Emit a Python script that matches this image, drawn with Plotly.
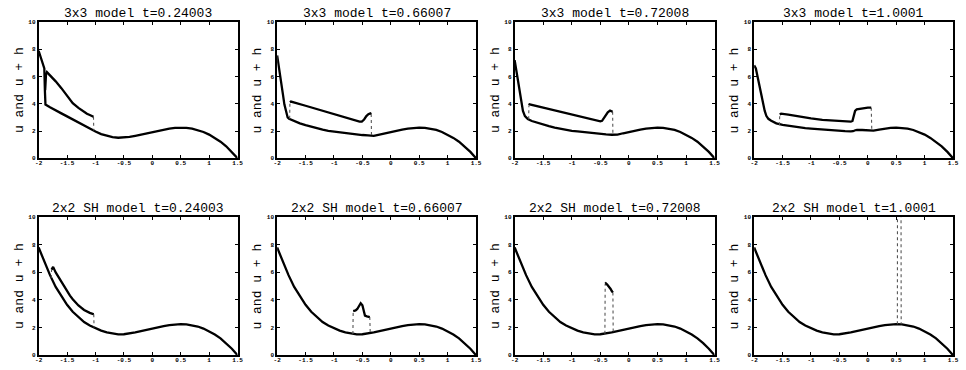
import plotly.graph_objects as go

# ---------------- data ----------------
X_TICKS = [-2, -1.5, -1, -0.5, 0, 0.5, 1, 1.5]
X_TICK_TEXT = ["-2", "-1.5", "-1", "-0.5", "0", "0.5", "1", "1.5"]
Y_TICKS = [0, 2, 4, 6, 8, 10]
Y_TICK_TEXT = ["0", "2", "4", "6", "8", "10"]

# common bottom curve (u in the SH panels, right part of u in the 3x3 panels)
BASE_X = [-2.0, -1.9, -1.8, -1.7, -1.6, -1.5, -1.4, -1.3, -1.2, -1.1, -1.0,
          -0.9, -0.8, -0.7, -0.6, -0.5, -0.4, -0.3, -0.2, -0.1, 0.0,
          0.1, 0.2, 0.3, 0.4, 0.5, 0.6, 0.7, 0.8, 0.9, 1.0,
          1.1, 1.2, 1.3, 1.4, 1.5]
BASE_Y = [7.8, 6.75, 5.8, 4.95, 4.25, 3.65, 3.15, 2.75, 2.4, 2.15, 1.95,
          1.78, 1.65, 1.56, 1.51, 1.52, 1.57, 1.65, 1.74, 1.84, 1.94,
          2.03, 2.11, 2.18, 2.23, 2.25, 2.24, 2.18, 2.08, 1.93, 1.74,
          1.5, 1.22, 0.88, 0.47, 0.0]

TITLES = ["3x3 model t=0.24003", "3x3 model t=0.66007", "3x3 model t=0.72008", "3x3 model t=1.0001",
          "2x2 SH model t=0.24003", "2x2 SH model t=0.66007", "2x2 SH model t=0.72008", "2x2 SH model t=1.0001"]

# 3x3 model: left part of u (joins the base curve afterwards)
U1_X = [-2.0, -1.96, -1.925, -1.9, -1.89, -1.88, -1.8, -1.7, -1.6, -1.5, -1.4, -1.3, -1.2, -1.1, -1.0]
U1_Y = [7.9, 7.3, 6.95, 6.6, 5.0, 3.95, 3.75, 3.5, 3.3, 3.08, 2.85, 2.62, 2.4, 2.18, 1.97]
U2_X = [-2.0, -1.95, -1.93, -1.9, -1.873, -1.845, -1.815, -1.79, -1.7, -1.6, -1.5, -1.4, -1.3,
        -1.2, -1.1, -1.0, -0.9, -0.8, -0.7, -0.6, -0.5, -0.4, -0.34]
U2_Y = [7.55, 6.3, 5.6, 4.75, 3.96, 3.4, 3.0, 2.9, 2.72, 2.57, 2.44, 2.32, 2.2,
        2.1, 2.02, 1.96, 1.9, 1.84, 1.79, 1.75, 1.71, 1.68, 1.66]
U3_X = [-2.0, -1.95, -1.913, -1.88, -1.855, -1.82, -1.798, -1.77, -1.7, -1.6, -1.5, -1.4, -1.3,
        -1.2, -1.1, -1.0, -0.9, -0.8, -0.7, -0.6, -0.5, -0.4, -0.3, -0.27]
U3_Y = [7.2, 5.95, 4.9, 4.0, 3.48, 3.1, 2.98, 2.88, 2.74, 2.6, 2.48, 2.37, 2.26,
        2.17, 2.09, 2.02, 1.97, 1.92, 1.87, 1.83, 1.79, 1.76, 1.73, 1.72]
U4_X = [-2.0, -1.97, -1.935, -1.9, -1.87, -1.844, -1.815, -1.786, -1.75, -1.7, -1.61, -1.5, -1.4,
        -1.3, -1.2, -1.1, -1.0, -0.9, -0.8, -0.7, -0.6, -0.5, -0.4, -0.3, -0.26, -0.22, -0.19,
        -0.1, 0.0, 0.07]
U4_Y = [6.83, 6.6, 5.9, 5.16, 4.5, 3.96, 3.5, 3.12, 2.9, 2.76, 2.57, 2.45, 2.38,
        2.32, 2.27, 2.22, 2.18, 2.14, 2.1, 2.06, 2.03, 2.01, 1.99, 1.98, 1.99, 2.06, 2.09,
        2.08, 2.04, 2.02]

# u + h where it differs from u
H1_X = [-1.885, -1.87, -1.855, -1.8, -1.7, -1.6, -1.5, -1.45, -1.4, -1.3, -1.2, -1.15, -1.1, -1.05, -1.035, -1.03]
H1_Y = [5.0, 6.2, 6.33, 6.1, 5.65, 5.15, 4.6, 4.3, 4.05, 3.7, 3.4, 3.27, 3.18, 3.08, 3.05, 2.05]
H2_X = [-1.78, -1.775, -1.757, -1.5, -1.25, -1.0, -0.75, -0.6, -0.55, -0.51, -0.47, -0.43, -0.395, -0.36, -0.345, -0.34]
H2_Y = [2.9, 4.12, 4.17, 3.86, 3.55, 3.25, 2.94, 2.76, 2.7, 2.7, 2.85, 3.1, 3.24, 3.3, 3.25, 1.66]
H3_X = [-1.755, -1.75, -1.74, -1.5, -1.25, -1.0, -0.75, -0.6, -0.55, -0.5, -0.47, -0.44, -0.41, -0.37, -0.33, -0.3, -0.285, -0.28]
H3_Y = [2.86, 3.9, 3.96, 3.72, 3.47, 3.22, 2.97, 2.8, 2.74, 2.71, 2.75, 2.95, 3.15, 3.38, 3.5, 3.48, 3.42, 1.72]
H4_X = [-1.555, -1.55, -1.526, -1.4, -1.2, -1.0, -0.8, -0.6, -0.4, -0.3, -0.27, -0.25, -0.224, -0.195, -0.1, 0.0, 0.06, 0.07]
H4_Y = [2.43, 3.22, 3.28, 3.2, 3.05, 2.93, 2.82, 2.75, 2.7, 2.69, 2.75, 3.1, 3.48, 3.6, 3.67, 3.72, 3.72, 2.02]
H5_X = [-1.78, -1.772, -1.745, -1.7, -1.6, -1.5, -1.449, -1.4, -1.3, -1.2, -1.15, -1.1, -1.05, -1.03, -1.025]
H5_Y = [5.6, 6.2, 6.4, 6.0, 5.3, 4.6, 4.31, 4.05, 3.6, 3.28, 3.16, 3.07, 3.0, 2.97, 2.0]
H6_X = [-0.667, -0.662, -0.62, -0.59, -0.555, -0.53, -0.5, -0.475, -0.455, -0.42, -0.37, -0.362]
H6_Y = [1.54, 3.2, 3.25, 3.35, 3.6, 3.77, 3.62, 3.2, 2.87, 2.82, 2.76, 1.6]
H7_X = [-0.42, -0.415, -0.405, -0.38, -0.35, -0.32, -0.3, -0.28, -0.275]
H7_Y = [1.56, 5.18, 5.21, 5.12, 4.98, 4.8, 4.65, 4.55, 1.68]
H8_X = [0.52, 0.523, 0.583, 0.587]
H8_Y = [2.25, 15.0, 15.0, 2.25]

U_LEFT = [(U1_X, U1_Y), (U2_X, U2_Y), (U3_X, U3_Y), (U4_X, U4_Y), None, None, None, None]
UPPER = [(H1_X, H1_Y), (H2_X, H2_Y), (H3_X, H3_Y), (H4_X, H4_Y),
         (H5_X, H5_Y), (H6_X, H6_Y), (H7_X, H7_Y), (H8_X, H8_Y)]

# ---------------- layout geometry ----------------
W, H = 966, 370
COLS = [(35, 236), (276, 477), (516, 718), (758, 959)]
ROWS = [(19.5, 158.3), (218.3, 359.0)]
FONT = "Liberation Mono"


def lower_curve(left):
    if left is None:
        return BASE_X, BASE_Y
    lx, ly = left
    xs = list(lx) + [x for x in BASE_X if x > lx[-1] + 0.02]
    ys = list(ly) + [y for x, y in zip(BASE_X, BASE_Y) if x > lx[-1] + 0.02]
    return xs, ys


def split_steep(xs, ys):
    sx, sy, dx_, dy_ = [], [], [], []
    for i in range(len(xs) - 1):
        x0, y0, x1, y1 = xs[i], ys[i], xs[i + 1], ys[i + 1]
        if abs(x1 - x0) < 0.012 and abs(y1 - y0) > 0.3:
            dx_ += [x0, x1, None]
            dy_ += [y0, y1, None]
            sx.append(None)
            sy.append(None)
        else:
            if not sx or sx[-1] is None:
                sx.append(x0)
                sy.append(y0)
            sx.append(x1)
            sy.append(y1)
    return sx, sy, dx_, dy_


fig = go.Figure()
annotations = []
layout_axes = {}
for i in range(8):
    r, c = divmod(i, 4)
    n = i + 1
    xa = "x" if n == 1 else f"x{n}"
    ya = "y" if n == 1 else f"y{n}"
    lx, ly = lower_curve(U_LEFT[i])
    fig.add_trace(go.Scatter(x=lx, y=ly, mode="lines", xaxis=xa, yaxis=ya,
                             line=dict(color="black", width=2.3)))
    ux, uy = UPPER[i]
    sx, sy, dx_, dy_ = split_steep(ux, uy)
    fig.add_trace(go.Scatter(x=dx_, y=dy_, mode="lines", xaxis=xa, yaxis=ya,
                             line=dict(color="#555555", width=1.1, dash="dot")))
    fig.add_trace(go.Scatter(x=sx, y=sy, mode="lines", xaxis=xa, yaxis=ya,
                             line=dict(color="black", width=2.3)))

    x0, x1 = COLS[c]
    y0, y1 = ROWS[r]
    common = dict(showline=True, linecolor="black", linewidth=1.8, mirror="ticks",
                  ticks="inside", ticklen=3, tickwidth=1, tickcolor="black",
                  showgrid=False, zeroline=False,
                  tickfont=dict(family=FONT, size=6, color="black", weight="bold"))
    layout_axes["xaxis" if n == 1 else f"xaxis{n}"] = dict(
        domain=[x0 / W, x1 / W], range=[-2, 1.5], anchor=ya,
        tickvals=X_TICKS, ticktext=X_TICK_TEXT, ticklabelstandoff=-2, **common)
    layout_axes["yaxis" if n == 1 else f"yaxis{n}"] = dict(
        domain=[1 - y1 / H, 1 - y0 / H], range=[0, 10], anchor=xa,
        tickvals=Y_TICKS, ticktext=Y_TICK_TEXT, **common)

    annotations.append(dict(text=TITLES[i], x=(x0 + x1) / 2 / W, y=1 - y0 / H,
                            xref="paper", yref="paper", xanchor="center", yanchor="bottom",
                            showarrow=False, yshift=-1,
                            font=dict(family=FONT, size=13, color="black")))
    annotations.append(dict(text="u and u + h", x=(x0 - 20) / W, y=1 - (y0 + y1) / 2 / H,
                            xref="paper", yref="paper", xanchor="center", yanchor="middle",
                            showarrow=False, textangle=-90,
                            font=dict(family=FONT, size=13, color="black")))

fig.update_layout(width=W, height=H, margin=dict(l=0, r=0, t=0, b=0),
                  paper_bgcolor="white", plot_bgcolor="white", showlegend=False,
                  annotations=annotations, **layout_axes)
fig.write_html("out.html", config={"displayModeBar": False},
               post_script="document.body.style.margin='0';document.body.style.padding='0';")
